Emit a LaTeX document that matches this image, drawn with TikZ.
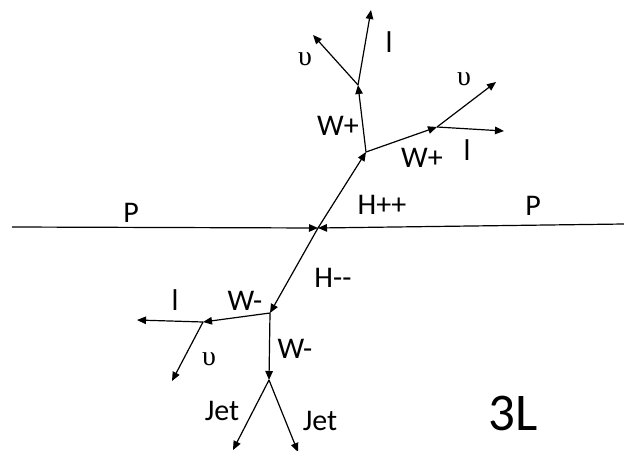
\documentclass[tikz,border=0pt]{standalone}
\usepackage{fontspec}
\setmainfont{Carlito}
\newfontfamily\grk{Liberation Serif}
\usetikzlibrary{arrows.meta}
\begin{document}
\begin{tikzpicture}[x=1pt,y=-1pt,
  prt/.style={line width=1.2pt,-{Triangle[length=9pt,width=7.5pt]}},
  lbl/.style={font=\fontsize{30}{32}\selectfont,inner sep=0pt,anchor=base},
  glbl/.style={font=\grk\fontsize{28}{30}\selectfont,inner sep=0pt,anchor=base}]
\useasboundingbox (0,0) rectangle (624,450);
% vertices
\coordinate (L) at (12,227);
\coordinate (R) at (624,224);
\coordinate (C) at (318,228);
\coordinate (Wp) at (366,152);
\coordinate (Wa) at (358,85);
\coordinate (la) at (371,10);
\coordinate (na) at (313,35);
\coordinate (Wb) at (437,127);
\coordinate (nb) at (496,82);
\coordinate (lb) at (504,131);
\coordinate (Wm) at (270,313);
\coordinate (Wc) at (203,322);
\coordinate (lc) at (137,320);
\coordinate (nc) at (172,381);
\coordinate (Wd) at (269,380);
\coordinate (ja) at (233,450);
\coordinate (jb) at (298,452);
% lines
\draw[prt] (L) -- (C);
\draw[prt] (R) -- (C);
\draw[prt] (C) -- (Wp);
\draw[prt] (Wp) -- (Wa);
\draw[prt] (Wa) -- (la);
\draw[prt] (Wa) -- (na);
\draw[prt] (Wp) -- (Wb);
\draw[prt] (Wb) -- (nb);
\draw[prt] (Wb) -- (lb);
\draw[prt] (C) -- (Wm);
\draw[prt] (Wm) -- (Wc);
\draw[prt] (Wc) -- (lc);
\draw[prt] (Wc) -- (nc);
\draw[prt] (Wm) -- (Wd);
\draw[prt] (Wd) -- (ja);
\draw[prt] (Wd) -- (jb);
% labels
\node[lbl] (tP1) at (131,222) {P};
\node[lbl] (tP2) at (533,215) {P};
\node[lbl] (tH1) at (382,214) {H++};
\node[lbl] (tH2) at (333,287) {H-{}-};
\node[lbl] (tW1) at (338,135) {W+};
\node[lbl] (tW2) at (422,167) {W+};
\node[lbl] (tl1) at (389,52) {l};
\node[glbl] (tn1) at (305,65) {υ};
\node[glbl] (tn2) at (464,85) {υ};
\node[lbl] (tl2) at (467,160) {l};
\node[lbl] (tW3) at (245,310) {W-};
\node[lbl] (tW4) at (295,358) {W-};
\node[lbl] (tl3) at (175,310) {l};
\node[glbl] (tn3) at (209,365) {υ};
\node[lbl] (tj1) at (222,420) {Jet};
\node[lbl] (tj2) at (320,430) {Jet};
\node[font=\fontsize{53}{56}\selectfont,inner sep=0pt,anchor=base] (t3L) at (513,430) {3L};
\end{tikzpicture}
\end{document}
